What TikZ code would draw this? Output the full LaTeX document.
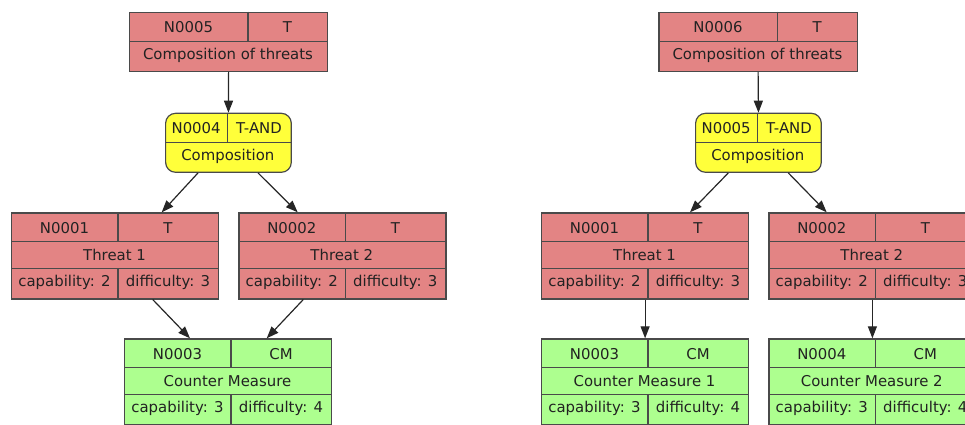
\documentclass[tikz,border=0pt]{standalone}
\usepackage{fontspec}
\setmainfont{DejaVu Sans}
\usetikzlibrary{arrows.meta}
\definecolor{thr}{HTML}{E38484}
\definecolor{cmg}{HTML}{ADFF8F}
\definecolor{yel}{HTML}{FFFF3A}
\definecolor{edgec}{HTML}{4A4A4A}
\definecolor{ink}{HTML}{222222}
\tikzset{
 threatbox/.style={draw=edgec, fill=thr, line width=1.2pt},
 cmbox/.style={draw=edgec, fill=cmg, line width=1.2pt},
 andbox/.style={draw=edgec, fill=yel, line width=1.2pt, rounded corners=10pt},
 cell/.style={draw=edgec, line width=1.2pt},
 txt/.style={text=ink, inner sep=0pt, anchor=base, font=\fontsize{14.9}{17}\selectfont},
 arr/.style={draw=black!85, line width=1.2pt, -{Triangle[length=12pt,width=9pt]}},
}
% three-row record: style, name, x, y, id, type, title, cap, diff
\newcommand\recthree[9]{%
 \node[#1, minimum width=207pt, minimum height=86pt, anchor=north west, inner sep=0pt] (#2) at (#3,#4) {};
 \draw[cell] (#3,#4+29) -- ++(207,0) (#3,#4+56) -- ++(207,0)
   (#3+107,#4) -- ++(0,29) (#3+107,#4+56) -- ++(0,30);
 \node[txt] (#2-id) at (#3+53.5,#4+21) {#5};
 \node[txt] (#2-ty) at (#3+157,#4+21) {#6};
 \node[txt] (#2-ti) at (#3+103.5,#4+47.7) {#7};
 \node[txt] (#2-ca) at (#3+53.5,#4+73.7) {#8};
 \node[txt] (#2-di) at (#3+157,#4+73.7) {#9};
}
% two-row record: style, name, x, y, width, col offset, id, type, title
\newcommand\rectwo[9]{%
 \node[#1, minimum width=#5 pt, minimum height=59pt, anchor=north west, inner sep=0pt] (#2) at (#3,#4) {};
 \draw[cell] (#3,#4+29.5) -- ++(#5,0) (#3+#6,#4) -- ++(0,29.5);
 \node[txt] (#2-id) at (#3+#6/2,#4+21) {#7};
 \node[txt] (#2-ty) at (#3+#6/2+#5/2,#4+21) {#8};
 \node[txt] (#2-ti) at (#3+#5/2,#4+47.7) {#9};
}
\begin{document}
\begin{tikzpicture}[x=1pt,y=-1pt]
\useasboundingbox (0,0) rectangle (965,424);
\clip (0,0) rectangle (965,424);
% left diagram
\rectwo{threatbox}{n5L}{129}{11.7}{198}{119}{N0005}{T}{Composition of threats}
\rectwo{andbox}{a4L}{165}{112.7}{125.7}{62.3}{N0004}{T-AND}{Composition}
\recthree{threatbox}{t1L}{11}{212.3}{N0001}{T}{Threat 1}{capability: 2}{difficulty: 3}
\recthree{threatbox}{t2L}{238.3}{212.3}{N0002}{T}{Threat 2}{capability: 2}{difficulty: 3}
\recthree{cmbox}{c3L}{124}{338.3}{N0003}{CM}{Counter Measure}{capability: 3}{difficulty: 4}
\draw[arr] (n5L.south) -- (a4L.north);
\draw[arr] ([xshift=33pt]a4L.south west) -- ([xshift=150.7pt]t1L.north west);
\draw[arr] ([xshift=93pt]a4L.south west) -- ([xshift=59.4pt]t2L.north west);
\draw[arr] ([xshift=141.7pt]t1L.south west) -- ([xshift=66pt]c3L.north west);
\draw[arr] ([xshift=65pt]t2L.south west) -- ([xshift=142.7pt]c3L.north west);
% right diagram
\rectwo{threatbox}{n6R}{658.3}{11.7}{198.4}{119.4}{N0006}{T}{Composition of threats}
\rectwo{andbox}{a5R}{695}{112.7}{125.7}{62.3}{N0005}{T-AND}{Composition}
\recthree{threatbox}{t1R}{541}{212.3}{N0001}{T}{Threat 1}{capability: 2}{difficulty: 3}
\recthree{threatbox}{t2R}{768.3}{212.3}{N0002}{T}{Threat 2}{capability: 2}{difficulty: 3}
\recthree{cmbox}{c3R}{541}{338.3}{N0003}{CM}{Counter Measure 1}{capability: 3}{difficulty: 4}
\recthree{cmbox}{c4R}{768.3}{338.3}{N0004}{CM}{Counter Measure 2}{capability: 3}{difficulty: 4}
\draw[arr] (n6R.south) -- (a5R.north);
\draw[arr] ([xshift=33.3pt]a5R.south west) -- ([xshift=149pt]t1R.north west);
\draw[arr] ([xshift=93.3pt]a5R.south west) -- ([xshift=58.4pt]t2R.north west);
\draw[arr] (t1R.south) -- (c3R.north);
\draw[arr] (t2R.south) -- (c4R.north);
\end{tikzpicture}
\end{document}
